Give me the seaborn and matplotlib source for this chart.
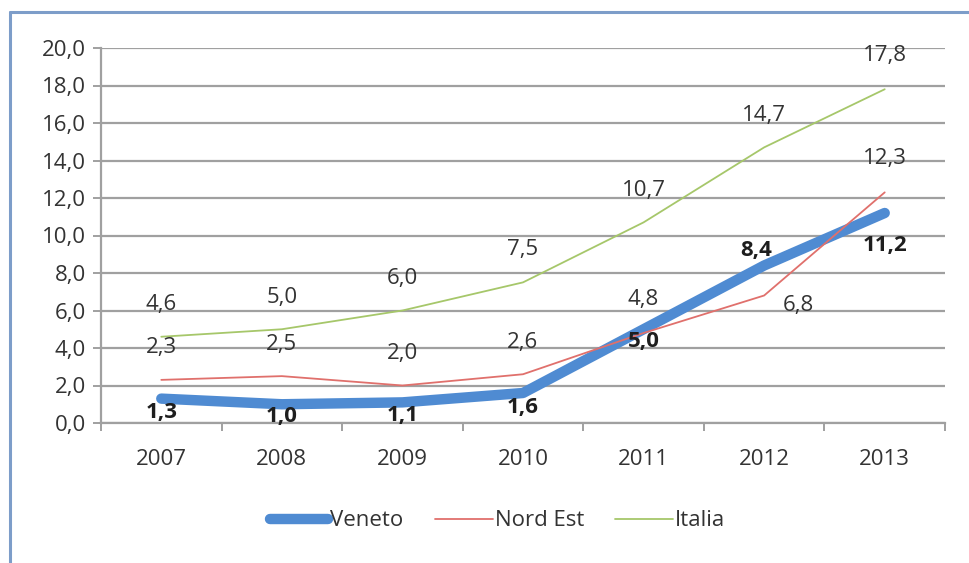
import matplotlib
matplotlib.use("Agg")
import matplotlib.pyplot as plt
from matplotlib.lines import Line2D
from matplotlib.ticker import FixedLocator, FuncFormatter
import seaborn as sns
import pandas as pd

years = ["2007", "2008", "2009", "2010", "2011", "2012", "2013"]
veneto = [1.3, 1.0, 1.1, 1.6, 5.0, 8.4, 11.2]
nord_est = [2.3, 2.5, 2.0, 2.6, 4.8, 6.8, 12.3]
italia = [4.6, 5.0, 6.0, 7.5, 10.7, 14.7, 17.8]
series_names = ["Veneto", "Nord Est", "Italia"]
yticks = [0, 2, 4, 6, 8, 10, 12, 14, 16, 18, 20]

colors = {"Veneto": "#4F8BD2", "Nord Est": "#E0706C", "Italia": "#A6C76A"}
widths = {"Veneto": 7.5, "Nord Est": 1.3, "Italia": 1.3}

sns.set_theme(style="white")
plt.rcParams["font.family"] = ["Open Sans", "DejaVu Sans"]

rows = []
for name, vals in zip(series_names, [veneto, nord_est, italia]):
    for i, (y, v) in enumerate(zip(years, vals)):
        rows.append({"pos": i, "anno": y, "serie": name, "valore": v})
df = pd.DataFrame(rows)

fig = plt.figure(figsize=(9.69, 5.63), dpi=100)
ax = fig.add_axes([101 / 969, 1 - 423 / 563, (945 - 101) / 969, (423 - 48) / 563])

for name in series_names:
    sub = df[df["serie"] == name]
    sns.lineplot(data=sub, x="pos", y="valore", ax=ax, color=colors[name],
                 linewidth=widths[name], solid_capstyle="round", label=name,
                 legend=False, zorder=3 if name != "Veneto" else 2.5)

FS = 16
grid_c = "#A0A0A0"
text_c = "#333333"
ax.set_xlim(-0.5, 6.5)
ax.set_ylim(0, 20)
ax.yaxis.set_major_locator(FixedLocator(yticks))
ax.yaxis.set_major_formatter(FuncFormatter(lambda v, p: f"{v:.1f}".replace(".", ",")))
ax.set_xticks(range(len(years)))
ax.set_xticklabels(years)
ax.set_xticks([i - 0.5 for i in range(len(years) + 1)], minor=True)
ax.grid(axis="y", color=grid_c, linewidth=1.6, zorder=0)
ax.set_axisbelow(True)
for s in ["top", "right"]:
    ax.spines[s].set_visible(False)
for s in ["left", "bottom"]:
    ax.spines[s].set_color(grid_c)
    ax.spines[s].set_linewidth(1.6)
ax.tick_params(axis="y", which="major", length=6, width=1.4, color=grid_c,
               labelsize=FS, labelcolor=text_c, pad=5, left=True)
ax.tick_params(axis="x", which="major", length=0, labelsize=FS, labelcolor=text_c, pad=19)
ax.tick_params(axis="x", which="minor", length=6, width=1.4, color=grid_c, bottom=True)
ax.set_xlabel("")
ax.set_ylabel("")

fmt = lambda v: f"{v:.1f}".replace(".", ",")
# label offsets in pixels (dx, dy)
off_v = [(0, -14), (0, -12), (0, -13), (0, -15), (0, -12), (-8, 15), (0, -32)]
off_n = [(0, 32), (0, 32), (0, 32), (0, 32), (0, 34), (34, -10), (0, 34)]
off_i = [(0, 32), (0, 32), (0, 32), (0, 33), (0, 32), (0, 32), (0, 34)]
for vals, offs, bold in [(veneto, off_v, True), (nord_est, off_n, False), (italia, off_i, False)]:
    for i, v in enumerate(vals):
        ax.annotate(fmt(v), (i, v), xytext=offs[i], textcoords="offset pixels",
                    ha="center", va="center", fontsize=FS, color="#1E1E1E" if bold else text_c,
                    fontweight="bold" if bold else "normal", zorder=5)

handles = [Line2D([], [], color=colors[n], linewidth=widths[n], solid_capstyle="round")
           for n in series_names]
fig.legend(handles, series_names, loc="center", bbox_to_anchor=(498 / 969, 1 - 521 / 563),
           ncol=3, frameon=False, fontsize=FS, handlelength=2.6, handletextpad=0.1,
           columnspacing=1.4, labelcolor=text_c)

frame_c = "#7D9DC9"
fig.add_artist(Line2D([10 / 969, 10 / 969], [-0.1, 1 - 12 / 563], color=frame_c, linewidth=2.2,
                      transform=fig.transFigure))
fig.add_artist(Line2D([10 / 969, 1.1], [1 - 12 / 563, 1 - 12 / 563], color=frame_c, linewidth=2.2,
                      transform=fig.transFigure))

fig.savefig("out.png", dpi=100)
